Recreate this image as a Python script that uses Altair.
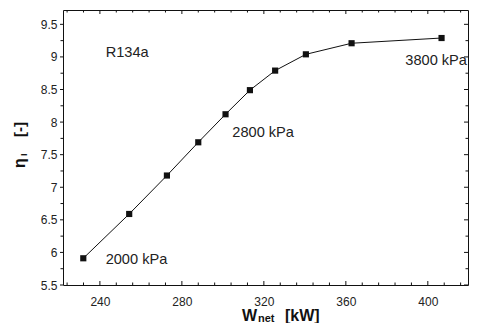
import altair as alt
import pandas as pd

# data
w_net = [231.9, 254.3, 272.7, 288.0, 301.3, 313.2, 325.5, 340.5, 362.8, 406.7]
eta = [5.91, 6.59, 7.18, 7.69, 8.12, 8.49, 8.79, 9.04, 9.21, 9.29]

x_major = [240, 280, 320, 360, 400]
x_minor = [224, 232, 248, 256, 264, 272, 288, 296, 304, 312, 328, 336, 344, 352,
           368, 376, 384, 392, 408, 416]
y_major = [5.5, 6, 6.5, 7, 7.5, 8, 8.5, 9, 9.5]
y_minor = [5.75, 6.25, 6.75, 7.25, 7.75, 8.25, 8.75, 9.25]

ann_text = ["R134a", "2000 kPa", "2800 kPa", "3800 kPa"]
ann_x = [242.8, 242.8, 304.6, 389.0]
ann_y = [9.06, 5.89, 7.83, 8.93]

X_DOMAIN = [222, 419.6]
Y_DOMAIN = [5.5, 9.72]
W, H = 405, 275
FONT = "Liberation Sans"
INK = "#111"

df = pd.DataFrame({"w": w_net, "eta": eta})
ann = pd.DataFrame({"t": ann_text, "x": ann_x, "y": ann_y})
one = pd.DataFrame({"a": [0]})
xmaj = pd.DataFrame({"v": x_major})
xmin = pd.DataFrame({"v": x_minor})
ymaj = pd.DataFrame({"v": y_major})
ymin = pd.DataFrame({"v": y_minor})

xs = alt.Scale(domain=X_DOMAIN, nice=False, zero=False)
ys = alt.Scale(domain=Y_DOMAIN, nice=False, zero=False)

XAXIS = alt.Axis(
    orient="bottom", values=x_major, tickSize=0, domain=False, grid=False,
    title=None, labelFont=FONT, labelFontSize=12, labelColor="#222",
    labelPadding=11)
YAXIS = alt.Axis(
    orient="left", values=y_major, tickSize=0, domain=False, grid=False,
    title=None, labelFont=FONT, labelFontSize=12, labelColor="#222",
    labelPadding=6, format=".1~f")


def X(field):
    return alt.X(field, scale=xs, axis=XAXIS)


def Y(field):
    return alt.Y(field, scale=ys, axis=YAXIS)


base = alt.Chart(df)

line = base.mark_line(color=INK, strokeWidth=1).encode(x=X("w:Q"), y=Y("eta:Q"))
pts = base.mark_point(shape="square", filled=True, size=38, color=INK,
                      opacity=1).encode(x=X("w:Q"), y=Y("eta:Q"))


def xticks(data, y0, y1):
    return alt.Chart(data).mark_rule(color=INK, strokeWidth=1).encode(
        x=X("v:Q"), y=alt.value(y0), y2=alt.value(y1))


def yticks(data, x0, x1):
    return alt.Chart(data).mark_rule(color=INK, strokeWidth=1).encode(
        y=Y("v:Q"), x=alt.value(x0), x2=alt.value(x1))


ticks = [
    xticks(xmaj, H, H - 4), xticks(xmin, H, H - 2.5),
    xticks(xmaj, 0, 4), xticks(xmin, 0, 2.5),
    yticks(ymaj, 0, -3), yticks(ymin, 0, -2.5),
    yticks(ymaj, W, W - 4), yticks(ymin, W, W - 2.5),
]

labels = alt.Chart(ann).mark_text(
    align="left", baseline="middle", font=FONT, fontSize=14.6, color="#222"
).encode(x=X("x:Q"), y=Y("y:Q"), text="t:N")


def title_text(txt, x, y, size, angle=0):
    return alt.Chart(one).mark_text(
        align="left", baseline="alphabetic", font=FONT, fontSize=size,
        fontWeight="bold", color=INK, angle=angle
    ).encode(x=alt.value(x), y=alt.value(y), text=alt.value(txt))


titles = [
    title_text("W", 179, 310.5, 16),
    title_text("net", 195, 312, 11),
    title_text("[kW]", 222, 310.5, 16),
    title_text("\u03b7", -38, 158, 16, angle=270),
    title_text("I", -36, 146, 9, angle=270),
    title_text("[-]", -38, 127, 15, angle=270),
]

chart = alt.layer(line, pts, *ticks, labels, *titles).properties(
    width=W, height=H,
    autosize=alt.AutoSizeParams(type="none"),
    padding={"left": 55, "top": 2, "right": 1, "bottom": 40},
    background="white",
).configure_view(stroke=INK, strokeWidth=1)

chart.save("out.html", embed_options={"renderer": "svg", "actions": False})
